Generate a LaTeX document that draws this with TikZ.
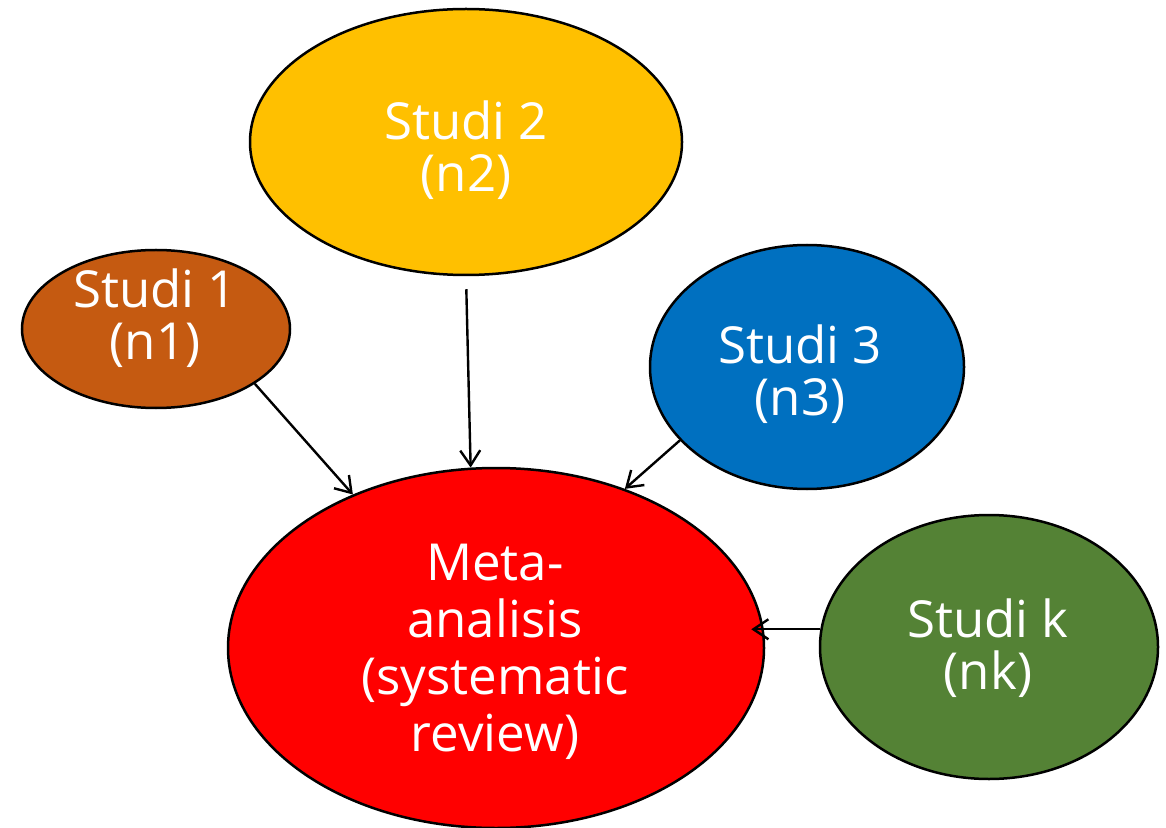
\documentclass[tikz,border=0pt]{standalone}
\usepackage{fontspec}
\setmainfont{Open Sans}
\usetikzlibrary{shapes.geometric,arrows.meta}
\definecolor{cYellow}{HTML}{FFC000}
\definecolor{cBrown}{HTML}{C55A11}
\definecolor{cBlue}{HTML}{0070C0}
\definecolor{cRed}{HTML}{FF0000}
\definecolor{cGreen}{HTML}{548235}
\tikzset{
  blob/.style={ellipse, draw=black, line width=1.25pt, inner sep=0pt},
  flow/.style={-{Straight Barb[length=7.5pt,width=10pt,line width=1.2pt]},
    line width=1.2pt, black},
  lbl/.style={text=white, align=center, inner sep=0pt,
    font=\fontsize{25.5}{26}\selectfont},
  biglbl/.style={lbl, font=\fontsize{25.5}{28.5}\selectfont}
}
\begin{document}
\begin{tikzpicture}[x=0.5pt,y=-0.5pt]
  \useasboundingbox (0,0) rectangle (1166,828);
  % study ellipses
  \node[blob, fill=cYellow, minimum width=216pt, minimum height=133pt]
    (s2) at (466,142) {};
  \node[blob, fill=cBrown, minimum width=134pt, minimum height=79pt]
    (s1) at (156,329) {};
  \node[blob, fill=cBlue, minimum width=157pt, minimum height=122pt]
    (s3) at (807,367) {};
  \node[blob, fill=cGreen, minimum width=169pt, minimum height=132pt]
    (sk) at (989,647) {};
  % central ellipse
  \node[blob, fill=cRed, minimum width=268pt, minimum height=180pt]
    (meta) at (496,648) {};
  % labels
  \node[lbl] (s2t) at (466,150) {Studi 2\\(n2)};
  \node[lbl] (s1t) at (155,318) {Studi 1\\(n1)};
  \node[lbl] (s3t) at (800,374) {Studi 3\\(n3)};
  \node[lbl] (skt) at (988,648) {Studi k\\(nk)};
  \node[biglbl] (metat) at (495,652) {Meta-\\analisis\\(systematic\\review)};
  % connectors
  \draw[flow] (s1.-29.4) -- (meta.133.1);
  \draw[flow, shorten <=6.5pt] (s2.south) -- (meta.98);
  \draw[flow] (s3.210.6) -- (meta.51.3);
  \draw[flow, shorten >=-7pt] (sk.174.6) -- (meta.east |- sk.174.6);
\end{tikzpicture}
\end{document}
